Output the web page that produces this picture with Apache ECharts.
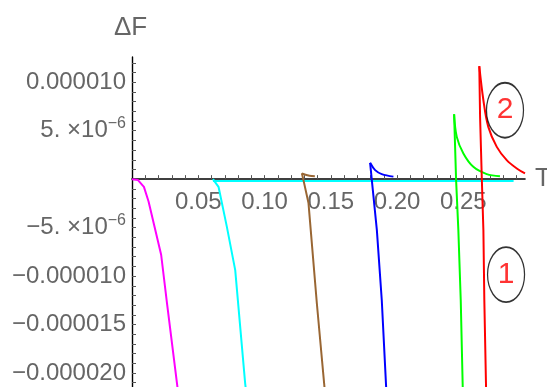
<!DOCTYPE html>
<html>
<head>
<meta charset="utf-8">
<script src="https://cdn.jsdelivr.net/npm/echarts@6/dist/echarts.min.js"></script>
<style>html,body{margin:0;padding:0;background:#fff}#c{width:547px;height:387px}</style>
</head>
<body>
<div id="c"></div>
<script>
// ---- data (T, ΔF) ----
const magenta = [[0,0],[0.0045,-0.1e-6],[0.009,-0.8e-6],[0.0125,-2.3e-6],[0.022,-7.8e-6],[0.0264,-12.8e-6],[0.0348,-22e-6]];
const cyanDrop = [[0.0611,0],[0.0653,-0.79e-6],[0.0716,-4.92e-6],[0.0779,-9.38e-6],[0.0854,-21.06e-6],[0.0862,-22e-6]];
const cyanFlat = [[0.0611,-0.18e-6],[0.288,-0.18e-6]];
const brownTail = [[0.1282,0.6e-6],[0.131,0.45e-6],[0.134,0.36e-6],[0.138,0.3e-6]];
const brownDrop = [[0.1282,0.6e-6],[0.1294,-0.1e-6],[0.1332,-2.47e-6],[0.1395,-12.8e-6],[0.145,-21.06e-6],[0.1456,-22e-6]];
const blueTail = [[0.1797,1.68e-6],[0.1835,0.93e-6],[0.1885,0.52e-6],[0.1973,0.26e-6]];
const blueDrop = [[0.1797,1.68e-6],[0.181,-0.1e-6],[0.1848,-5.26e-6],[0.1885,-12.47e-6],[0.1918,-21.44e-6],[0.1921,-22e-6]];
const greenTail = [[0.2431,6.7e-6],[0.2451,4.36e-6],[0.2501,2.65e-6],[0.2576,1.27e-6],[0.2677,0.52e-6],[0.2777,0.31e-6]];
const greenDrop = [[0.2431,6.7e-6],[0.2446,-0.1e-6],[0.2463,-5.26e-6],[0.2481,-12.47e-6],[0.2496,-21.44e-6],[0.2497,-22e-6]];
const redTail = [[0.2621,11.65e-6],[0.2652,8.14e-6],[0.2689,5.39e-6],[0.2753,3.33e-6],[0.2828,1.96e-6],[0.2904,1.1e-6],[0.2966,0.59e-6]];
const redDrop = [[0.2621,11.65e-6],[0.2627,6.42e-6],[0.264,0.07e-6],[0.2652,-5.26e-6],[0.2659,-12.47e-6],[0.2672,-21.44e-6],[0.2673,-22e-6]];
const annotations = [[0.2815,7.11e-6,'2'],[0.2823,-9.85e-6,'1']];
const xTickLabels = {5:'0.05',10:'0.10',15:'0.15',20:'0.20',25:'0.25'};
const yTickLabels = {10:'0.000010',5:'5. ×10{s|−6}',[-5]:'−5. ×10{s|−6}',[-10]:'−0.000010',[-15]:'−0.000015',[-20]:'−0.000020'};

const FONT = "'Liberation Sans',Arial,sans-serif";
const FS = 24;
const chart = echarts.init(document.getElementById('c'), null, {renderer:'canvas'});

function line(data, color, smooth){
  return {type:'line', data, showSymbol:false, smooth: smooth?0.35:false,
    lineStyle:{color, width:2}, itemStyle:{color}, animation:false, z:3};
}

chart.setOption({
  animation:false,
  grid:{left:132, right:22, top:57, bottom:-5.4, containLabel:false, outerBoundsMode:'none'},
  xAxis:{type:'value', min:0, max:0.2966, interval:0.01,
    name:'T', nameLocation:'end', nameGap:10,
    nameTextStyle:{color:'#666', fontSize:FS+2, fontFamily:FONT, verticalAlign:'middle', align:'left'},
    axisLine:{onZero:true, lineStyle:{color:'#000', width:1.6}},
    axisTick:{inside:true, length:4, lineStyle:{color:'#555'}},
    splitLine:{show:false},
    axisLabel:{color:'#666', fontSize:FS, fontFamily:FONT, margin:-202.4,
      showMinLabel:false, showMaxLabel:false, verticalAlign:'top',
      formatter:v=>{const k=Math.round(v*100); return (Math.abs(v*100-k)<1e-6 && xTickLabels[k])?xTickLabels[k]:'';}}
  },
  yAxis:{type:'value', min:-22e-6, max:12.6e-6, interval:1e-6,
    name:'ΔF', nameLocation:'end', nameGap:29,
    nameTextStyle:{color:'#666', fontSize:FS+2, fontFamily:FONT, verticalAlign:'middle', align:'center', padding:[0,3,0,0]},
    axisLine:{onZero:true, lineStyle:{color:'#000', width:1.4}},
    axisTick:{inside:true, length:4, lineStyle:{color:'#555'}},
    splitLine:{show:false},
    axisLabel:{color:'#666', fontSize:FS, fontFamily:FONT, margin:6,
      showMinLabel:false, showMaxLabel:false,
      rich:{s:{fontSize:16, fontFamily:FONT, color:'#666', padding:[0,0,14,0]}},
      formatter:v=>{const k=Math.round(v*1e6); return (Math.abs(v*1e6-k)<1e-4 && yTickLabels[k])?yTickLabels[k]:'';}}
  },
  series:[
    line(cyanFlat,'#00ffff'),
    line(magenta,'#ff00ff'),
    line(cyanDrop,'#00ffff'),
    line(brownTail,'#996633',true),
    line(brownDrop,'#996633'),
    line(blueTail,'#0000ff',true),
    line(blueDrop,'#0000ff'),
    line(greenTail,'#00ff00',true),
    line(greenDrop,'#00ff00'),
    line(redTail,'#ff0000',true),
    line(redDrop,'#ff0000'),
    {type:'scatter', data:annotations.map(a=>({value:[a[0],a[1]], label:{formatter:a[2]}})),
      symbol:'circle', symbolSize:[37,55], z:5,
      itemStyle:{color:'rgba(255,255,255,0)', borderColor:'#000', borderWidth:1.5},
      label:{show:true, position:'inside', color:'#ff0000', fontSize:30, fontFamily:FONT},
      emphasis:{disabled:true}, silent:true}
  ]
});
</script>
</body>
</html>
